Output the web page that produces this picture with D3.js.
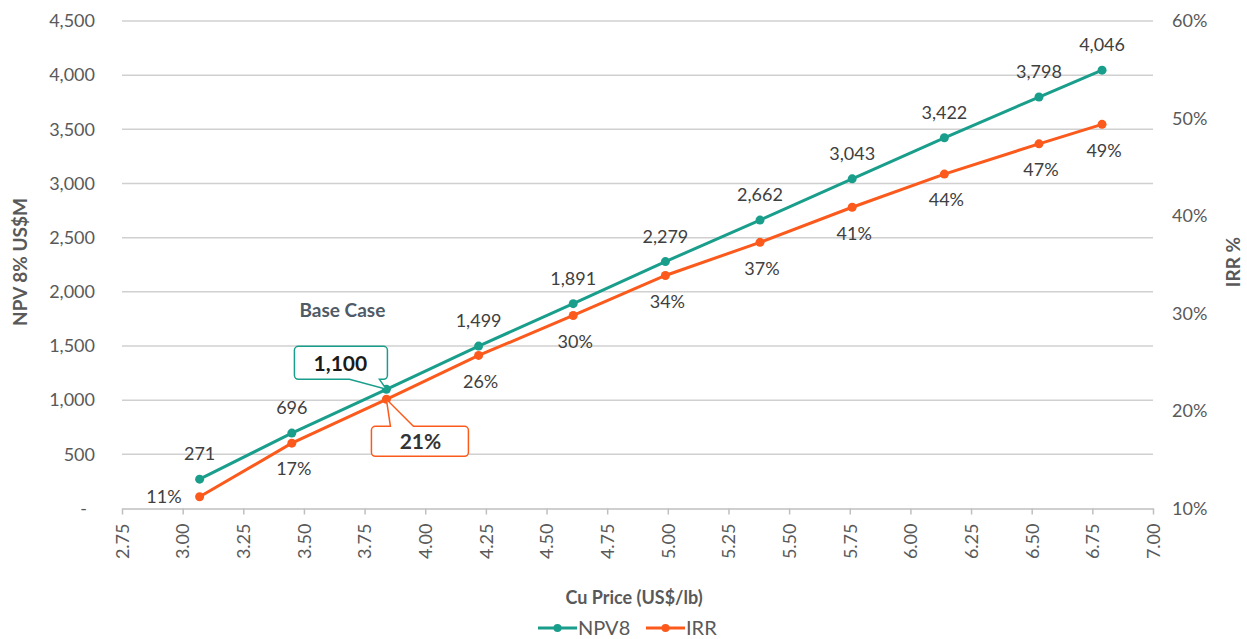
<!DOCTYPE html>
<html>
<head>
<meta charset="utf-8">
<script src="https://cdn.jsdelivr.net/npm/d3@7"></script>
<style>
  body { margin: 0; background: #fff; }
  svg text { font-family: Lato, "Open Sans", sans-serif; }
</style>
</head>
<body>
<svg id="chart" width="1247" height="639"></svg>
<script>
// chart data
const cuPrice = [3.07, 3.45, 3.84, 4.22, 4.61, 4.99, 5.38, 5.76, 6.14, 6.53, 6.79];
const npv8 = [271, 696, 1100, 1499, 1891, 2279, 2662, 3043, 3422, 3798, 4046];
const irr = [0.112, 0.167, 0.212, 0.257, 0.298, 0.339, 0.373, 0.409, 0.443, 0.474, 0.494];
const priceTicks = [2.75, 3.00, 3.25, 3.50, 3.75, 4.00, 4.25, 4.50, 4.75, 5.00, 5.25, 5.50, 5.75, 6.00, 6.25, 6.50, 6.75, 7.00];
const npvTicks = [0, 500, 1000, 1500, 2000, 2500, 3000, 3500, 4000, 4500];
const irrTicks = [0.1, 0.2, 0.3, 0.4, 0.5, 0.6];
const baseIndex = 2;
const seriesNames = ['NPV8', 'IRR'];

const teal = '#1a9e8c';
const orange = '#fb5a1c';
const axisGrey = '#595959';
const labelGrey = '#404040';
const gridColor = '#d0d0d0';

const plotLeft = 122, plotRight = 1153, plotTop = 21, plotBottom = 508.5;

const svg = d3.select('#chart');

const x = d3.scaleLinear().domain([2.75, 7.0]).range([plotLeft, plotRight]);
const yL = d3.scaleLinear().domain([0, 4500]).range([plotBottom, plotTop]);
const yR = d3.scaleLinear().domain([0.1, 0.6]).range([plotBottom, plotTop]);

const fmtNum = d3.format(',');
const fmtPct = d3.format('.0%');

// gridlines
svg.append('g')
  .selectAll('line')
  .data(npvTicks.filter(d => d > 0))
  .enter()
  .append('line')
  .attr('x1', plotLeft).attr('x2', plotRight)
  .attr('y1', d => yL(d)).attr('y2', d => yL(d))
  .attr('stroke', gridColor)
  .attr('stroke-width', 1.5);

// x axis
const xAxis = svg.append('g')
  .attr('transform', `translate(0,${plotBottom})`)
  .call(d3.axisBottom(x).tickValues(priceTicks).tickFormat(d3.format('.2f')).tickSize(6).tickSizeOuter(0));
xAxis.select('.domain').attr('stroke', '#bfbfbf').attr('stroke-width', 1.5);
xAxis.selectAll('.tick line').attr('stroke', '#bfbfbf').attr('stroke-width', 1.5);
xAxis.selectAll('.tick text')
  .attr('fill', axisGrey)
  .style('font-size', '18px')
  .attr('text-anchor', 'end')
  .attr('transform', 'rotate(-90)')
  .attr('x', -15)
  .attr('y', 0)
  .attr('dy', '0.35em');

// left axis
const yAxisL = svg.append('g')
  .attr('transform', `translate(${plotLeft},0)`)
  .call(d3.axisLeft(yL).tickValues(npvTicks).tickFormat(d => d === 0 ? '-' : fmtNum(d)).tickSize(0));
yAxisL.select('.domain').remove();
yAxisL.selectAll('.tick text')
  .attr('fill', axisGrey)
  .style('font-size', '18px')
  .attr('x', d => d === 0 ? -35 : -27);

// right axis
const yAxisR = svg.append('g')
  .attr('transform', `translate(${plotRight},0)`)
  .call(d3.axisRight(yR).tickValues(irrTicks).tickFormat(fmtPct).tickSize(0));
yAxisR.select('.domain').remove();
yAxisR.selectAll('.tick text')
  .attr('fill', axisGrey)
  .style('font-size', '18px')
  .attr('x', 19);

// axis titles
svg.append('text')
  .attr('transform', 'translate(20,262) rotate(-90)')
  .attr('text-anchor', 'middle')
  .attr('dy', '0.35em')
  .attr('fill', axisGrey)
  .style('font-size', '19px')
  .style('font-weight', 'bold')
  .text('NPV 8% US$M');

svg.append('text')
  .attr('transform', 'translate(1233,262) rotate(-90)')
  .attr('text-anchor', 'middle')
  .attr('dy', '0.35em')
  .attr('fill', axisGrey)
  .style('font-size', '19px')
  .style('font-weight', 'bold')
  .text('IRR %');

svg.append('text')
  .attr('x', 634).attr('y', 598)
  .attr('text-anchor', 'middle')
  .attr('dy', '0.35em')
  .attr('fill', axisGrey)
  .style('font-size', '18px')
  .style('font-weight', 'bold')
  .text('Cu Price (US$/lb)');

// series
const npvPts = cuPrice.map((p, i) => ({ x: x(p), y: yL(npv8[i]), v: npv8[i], i }));
const irrPts = cuPrice.map((p, i) => ({ x: x(p), y: yR(irr[i]), v: irr[i], i }));

const line = d3.line().x(d => d.x).y(d => d.y);

function drawSeries(pts, color) {
  svg.append('path')
    .datum(pts)
    .attr('d', line)
    .attr('fill', 'none')
    .attr('stroke', color)
    .attr('stroke-width', 3);
  svg.append('g')
    .selectAll('circle')
    .data(pts)
    .enter()
    .append('circle')
    .attr('cx', d => d.x).attr('cy', d => d.y)
    .attr('r', 4.5)
    .attr('fill', color);
}
drawSeries(irrPts, orange);
drawSeries(npvPts, teal);

// data labels
svg.append('g')
  .selectAll('text')
  .data(npvPts.filter(d => d.i !== baseIndex))
  .enter()
  .append('text')
  .attr('x', d => d.x)
  .attr('y', d => d.y - 25)
  .attr('dy', '0.35em')
  .attr('text-anchor', 'middle')
  .attr('fill', labelGrey)
  .style('font-size', '18px')
  .text(d => fmtNum(d.v));

svg.append('g')
  .selectAll('text')
  .data(irrPts.filter(d => d.i !== baseIndex))
  .enter()
  .append('text')
  .attr('x', d => d.i === 0 ? d.x - 18 : d.x + 2)
  .attr('y', d => d.i === 0 ? d.y : d.y + 26)
  .attr('dy', '0.35em')
  .attr('text-anchor', d => d.i === 0 ? 'end' : 'middle')
  .attr('fill', labelGrey)
  .style('font-size', '18px')
  .text(d => fmtPct(d.v));

// base case callouts
function calloutPath(bx, by, w, h, edge, a, b, tx, ty) {
  const r = 4;
  const p = d3.path();
  p.moveTo(bx + r, by);
  if (edge === 'top') { p.lineTo(a, by); p.lineTo(tx, ty); p.lineTo(b, by); }
  p.lineTo(bx + w - r, by);
  p.arcTo(bx + w, by, bx + w, by + r, r);
  p.lineTo(bx + w, by + h - r);
  p.arcTo(bx + w, by + h, bx + w - r, by + h, r);
  if (edge === 'bottom') { p.lineTo(b, by + h); p.lineTo(tx, ty); p.lineTo(a, by + h); }
  p.lineTo(bx + r, by + h);
  p.arcTo(bx, by + h, bx, by + h - r, r);
  p.lineTo(bx, by + r);
  p.arcTo(bx, by, bx + r, by, r);
  p.closePath();
  return p.toString();
}

const bn = npvPts[baseIndex];
const bi = irrPts[baseIndex];

svg.append('path')
  .attr('d', calloutPath(bn.x - 92, bn.y - 43, 93, 33, 'bottom', bn.x - 37, bn.x - 7, bn.x, bn.y))
  .attr('fill', '#fff')
  .attr('stroke', teal)
  .attr('stroke-width', 1.5);
svg.append('text')
  .attr('x', bn.x - 46).attr('y', bn.y - 26)
  .attr('dy', '0.35em')
  .attr('text-anchor', 'middle')
  .attr('fill', '#1a1a1a')
  .style('font-size', '21px')
  .style('font-weight', 'bold')
  .text(fmtNum(npv8[baseIndex]));

svg.append('path')
  .attr('d', calloutPath(bi.x - 15, bi.y + 27, 97, 30, 'top', bi.x + 4, bi.x + 27, bi.x, bi.y))
  .attr('fill', '#fff')
  .attr('stroke', orange)
  .attr('stroke-width', 1.5);
svg.append('text')
  .attr('x', bi.x + 34).attr('y', bi.y + 42)
  .attr('dy', '0.35em')
  .attr('text-anchor', 'middle')
  .attr('fill', '#333')
  .style('font-size', '21px')
  .style('font-weight', 'bold')
  .text(fmtPct(irr[baseIndex]));

svg.append('text')
  .attr('x', bn.x - 44).attr('y', bn.y - 79)
  .attr('dy', '0.35em')
  .attr('text-anchor', 'middle')
  .attr('fill', '#4f5b66')
  .style('font-size', '19px')
  .style('font-weight', 'bold')
  .text('Base Case');

// legend
const legend = svg.append('g').attr('transform', 'translate(538,628)');
const legendItems = [
  { name: seriesNames[0], color: teal, x: 0 },
  { name: seriesNames[1], color: orange, x: 108 }
];
const li = legend.selectAll('g').data(legendItems).enter().append('g')
  .attr('transform', d => `translate(${d.x},0)`);
li.append('line').attr('x1', 0).attr('x2', 39).attr('y1', 0).attr('y2', 0)
  .attr('stroke', d => d.color).attr('stroke-width', 3);
li.append('circle').attr('cx', 19.5).attr('cy', 0).attr('r', 4).attr('fill', d => d.color);
li.append('text').attr('x', 40).attr('dy', '0.35em')
  .attr('fill', axisGrey)
  .style('font-size', '20px')
  .text(d => d.name);
</script>
</body>
</html>
